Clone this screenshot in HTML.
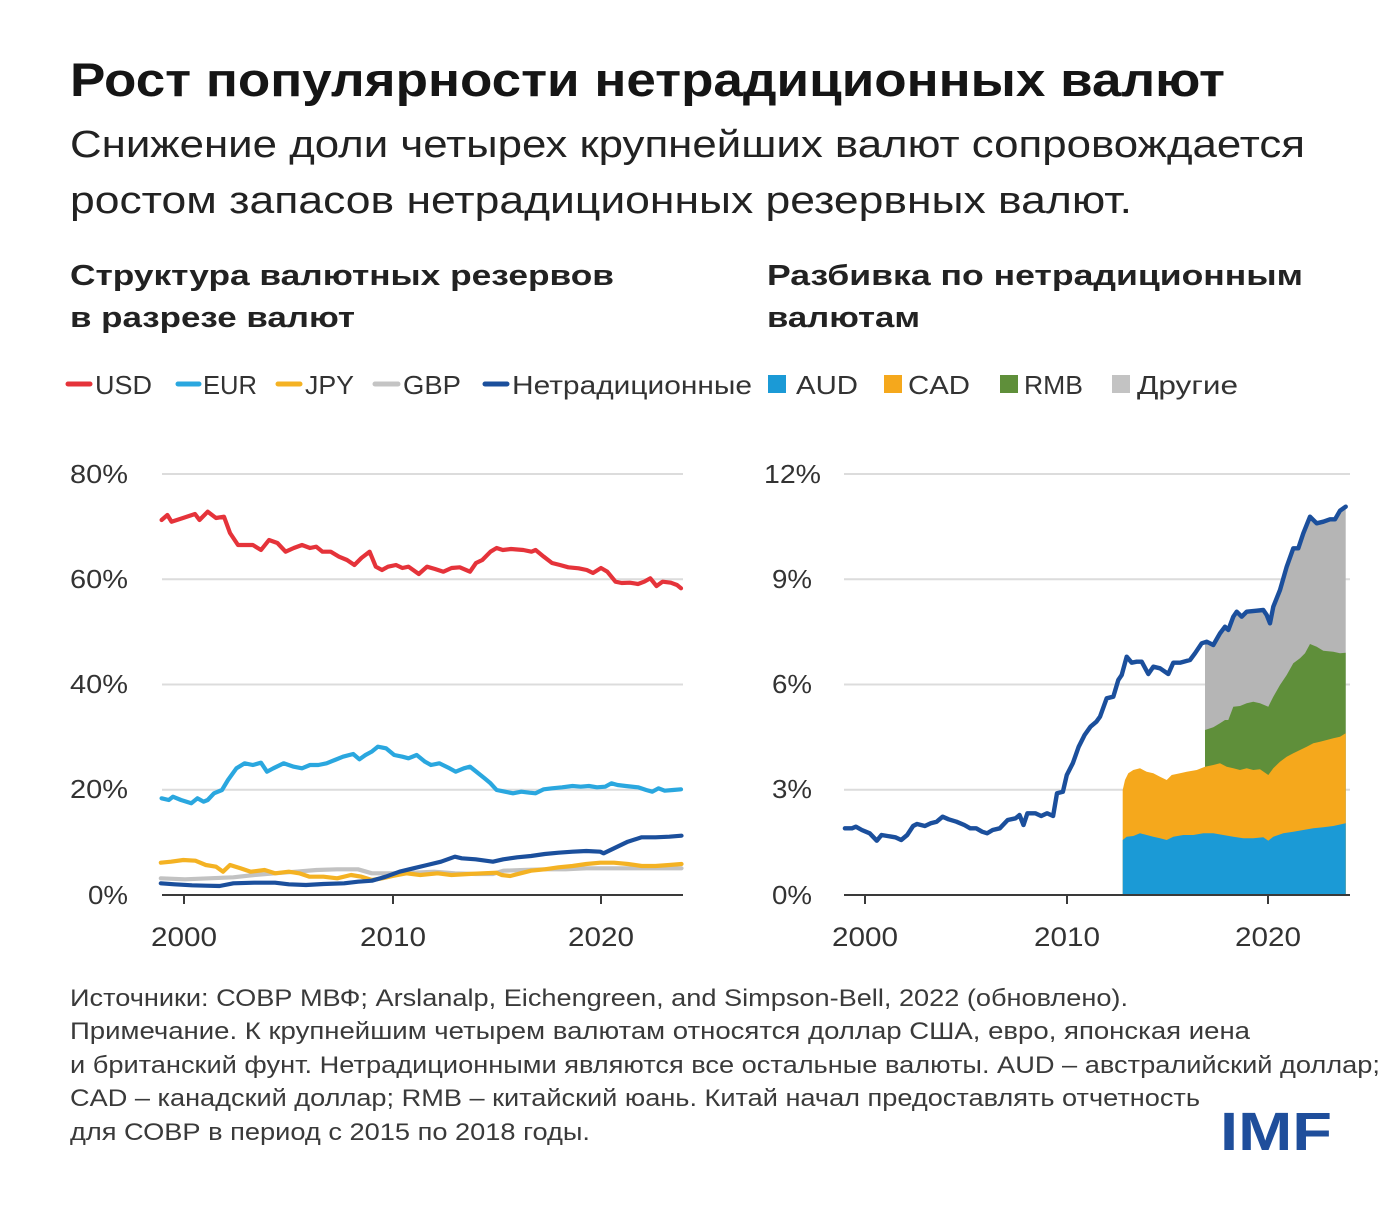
<!DOCTYPE html>
<html><head><meta charset="utf-8"><style>
html,body{margin:0;padding:0;background:#fff;}
svg{display:block;}
text{font-family:"Liberation Sans","DejaVu Sans",sans-serif;}
</style></head><body>
<svg width="1398" height="1210" viewBox="0 0 1398 1210" xmlns="http://www.w3.org/2000/svg">
<rect width="1398" height="1210" fill="#fff"/>
<!-- Title -->
<text x="70" y="96" font-size="47" font-weight="bold" fill="#151515" textLength="1155" lengthAdjust="spacingAndGlyphs">Рост популярности нетрадиционных валют</text>
<text x="70" y="157" font-size="38" fill="#222" textLength="1235" lengthAdjust="spacingAndGlyphs">Снижение доли четырех крупнейших валют сопровождается</text>
<text x="70" y="213" font-size="38" fill="#222" textLength="1062" lengthAdjust="spacingAndGlyphs">ростом запасов нетрадиционных резервных валют.</text>
<!-- Subheadings -->
<text x="70" y="285" font-size="29" font-weight="bold" fill="#222" textLength="544" lengthAdjust="spacingAndGlyphs">Структура валютных резервов</text>
<text x="70" y="327" font-size="29" font-weight="bold" fill="#222" textLength="285" lengthAdjust="spacingAndGlyphs">в разрезе валют</text>
<text x="767" y="285" font-size="29" font-weight="bold" fill="#222" textLength="536" lengthAdjust="spacingAndGlyphs">Разбивка по нетрадиционным</text>
<text x="767" y="327" font-size="29" font-weight="bold" fill="#222" textLength="153" lengthAdjust="spacingAndGlyphs">валютам</text>
<!-- Left legend -->
<g stroke-width="5" stroke-linecap="round">
<line x1="68" y1="384" x2="90" y2="384" stroke="#e5333a"/>
<line x1="178" y1="384" x2="199" y2="384" stroke="#2aa7df"/>
<line x1="278" y1="384" x2="300" y2="384" stroke="#f4b223"/>
<line x1="375" y1="384" x2="398" y2="384" stroke="#c4c4c4"/>
<line x1="485" y1="384" x2="507" y2="384" stroke="#1b4f9c"/>
</g>
<g font-size="26" fill="#333">
<text x="95" y="394" textLength="57" lengthAdjust="spacingAndGlyphs">USD</text>
<text x="203" y="394" textLength="54" lengthAdjust="spacingAndGlyphs">EUR</text>
<text x="305" y="394" textLength="49" lengthAdjust="spacingAndGlyphs">JPY</text>
<text x="403" y="394" textLength="58" lengthAdjust="spacingAndGlyphs">GBP</text>
<text x="512" y="394" textLength="240" lengthAdjust="spacingAndGlyphs">Нетрадиционные</text>
</g>
<!-- Right legend -->
<rect x="768" y="375" width="18" height="18" fill="#1b9ad6"/>
<rect x="884" y="375" width="18" height="18" fill="#f5a81c"/>
<rect x="1000" y="375" width="18" height="18" fill="#5f8f3a"/>
<rect x="1112" y="375" width="18" height="18" fill="#c3c3c3"/>
<g font-size="26" fill="#333">
<text x="796" y="394" textLength="62" lengthAdjust="spacingAndGlyphs">AUD</text>
<text x="908" y="394" textLength="62" lengthAdjust="spacingAndGlyphs">CAD</text>
<text x="1024" y="394" textLength="59" lengthAdjust="spacingAndGlyphs">RMB</text>
<text x="1137" y="394" textLength="101" lengthAdjust="spacingAndGlyphs">Другие</text>
</g>

<!-- LEFT CHART -->
<g stroke="#dcdcdc" stroke-width="2">
<line x1="162" y1="474" x2="683" y2="474"/>
<line x1="162" y1="579.3" x2="683" y2="579.3"/>
<line x1="162" y1="684.5" x2="683" y2="684.5"/>
<line x1="162" y1="789.8" x2="683" y2="789.8"/>
</g>
<g font-size="26" fill="#333" text-anchor="end">
<text x="128" y="483" textLength="58" lengthAdjust="spacingAndGlyphs">80%</text>
<text x="128" y="588" textLength="58" lengthAdjust="spacingAndGlyphs">60%</text>
<text x="128" y="693" textLength="58" lengthAdjust="spacingAndGlyphs">40%</text>
<text x="128" y="798" textLength="58" lengthAdjust="spacingAndGlyphs">20%</text>
<text x="128" y="904" textLength="40" lengthAdjust="spacingAndGlyphs">0%</text>
</g>
<g fill="none" stroke-width="4.2" stroke-linejoin="round" stroke-linecap="round">
<polyline stroke="#c2c2c2" points="160.8,878.3 185,879.3 209.2,878.3 233.4,877.3 254.2,875 275,873.3 295.7,871.7 316.5,870 337.2,869.3 358,869.3 371.9,873.3 392.6,873.3 413.4,872.7 434.1,871.7 454.9,873.3 475.6,874 492.9,874 503.3,870.7 524,870 544.8,869.3 565.6,869.3 586.3,868.3 607.1,868.3 627.8,868.3 648.6,868.3 681.5,868.3"/>
<polyline stroke="#f4b223" points="160.8,862.7 171,861.7 183.3,860 195.4,860.7 205.8,865 216,866.7 223,871.7 230,865 240.4,868.3 250.8,871.7 264.6,870 275,873.3 288.8,871.7 299.2,873.3 309.6,876.7 323.4,876.7 337.2,878.3 351,875 361.5,876.7 371.9,880 382.2,878.3 392.6,876 406.4,873.3 420.3,875 437.6,873.3 451.4,875 468.7,874 482.5,873.3 496.4,872.7 501.6,875 510.2,876 520.6,873.3 531,870.7 544.8,869.3 558.6,867.3 572.5,866 586.3,864 600.2,862.7 614,862.7 627.8,864 641.7,866 655.5,866 669.3,865 681.5,864"/>
<polyline stroke="#1b4f9c" points="160.8,883.3 174.6,884.3 192,885.3 205.8,885.7 219.6,886 233.4,883.3 254.2,882.7 275,882.7 288.8,884.3 306,885 323.4,884 344.2,883.3 358,881.7 371.9,880.7 385.7,876.7 399.5,871.7 413.4,868.3 427.2,865 441,861.7 454.9,856.7 461.8,858.3 475.6,859.3 492.9,861.7 503.3,859.3 517.2,857.3 531,856 544.8,854 558.6,852.7 572.5,851.7 586.3,851 600.2,851.7 603.6,853.3 614,848.3 627.8,841.7 641.7,837.3 655.5,837.3 669.3,836.7 681.5,835.7"/>
<polyline stroke="#2aa7df" points="161.6,798.3 168.8,800 172.9,796.7 181,800 191.3,803.3 197.5,798.3 203.6,801.7 207.7,800 214,793.3 222,790 228,780 236.4,768.3 244.6,763.3 252.8,765 261,762.7 267,771.7 273.3,768.3 283.6,763.3 293.8,766.7 302,768.3 310,765 318.4,765 326.6,763.3 334.8,760 343,756.7 353.2,754 359.4,759.3 365.5,755 371.6,751.7 377.8,746.7 386,748.3 394.2,755 402.4,756.7 408.5,758.3 416.7,755 425,761.7 431,765 439.3,763.3 449.5,768.3 455.7,771.7 463.9,768.3 470,766.7 476.3,771.7 484.5,778.3 490.5,783.3 496.6,790 505,791.7 513,793.3 521.3,791.7 529.5,792.7 535.6,793.3 543.8,789.3 552,788.3 562.2,787.3 572.5,786 580.7,786.7 588.9,786 597,787.3 605.2,786.7 611.4,783.3 617.5,785 625.7,786 638,787.3 646.2,790 652.3,791.7 658.5,788.3 664.7,790.7 672.9,790 681,789.3"/>
<polyline stroke="#e5333a" points="161.6,520 167.4,515 171.5,521.7 183,518 195,514 199.5,520 207.7,511.7 216,518 224,516.7 230,533 238,545 252.8,545 261,550 269,540 277.4,543 285.6,551.7 293.8,548 302,545 310,548 316.3,546.7 322.5,551.7 330.7,551.7 339,556.7 347,560 354.4,565 361.4,558 369.6,551.7 375.8,566.7 382,570 388,566.7 396,565 402.4,568 408.5,566.7 418.8,574 427,566.7 435,569 443.4,571.7 451.6,568 459.8,567.3 470,571.7 476,563 482.3,560 490.5,551.7 496.6,548 502.8,550 511,549 523.3,550 531.5,551.7 535.6,550 543.8,556.7 552,563 560,565 568.3,567.3 578.6,568.3 586.8,570 593,573 601,568 607.3,571.7 615.5,581.7 621.6,583 629.8,582.7 638,584 644.2,581.7 650.3,578.3 656.5,586 662.6,581.7 670.8,582.7 677,585 681,588.3"/>
</g>
<g stroke="#3a3a3a" stroke-width="2">
<line x1="162" y1="895" x2="683" y2="895"/>
<line x1="184" y1="895" x2="184" y2="904"/>
<line x1="393" y1="895" x2="393" y2="904"/>
<line x1="601" y1="895" x2="601" y2="904"/>
</g>
<g font-size="27" fill="#333" text-anchor="middle">
<text x="184" y="946" textLength="66" lengthAdjust="spacingAndGlyphs">2000</text>
<text x="393" y="946" textLength="66" lengthAdjust="spacingAndGlyphs">2010</text>
<text x="601" y="946" textLength="66" lengthAdjust="spacingAndGlyphs">2020</text>
</g>

<!-- RIGHT CHART -->
<g stroke="#dcdcdc" stroke-width="2">
<line x1="844" y1="474" x2="1350" y2="474"/>
<line x1="844" y1="579.3" x2="1350" y2="579.3"/>
<line x1="844" y1="684.5" x2="1350" y2="684.5"/>
<line x1="844" y1="789.8" x2="1350" y2="789.8"/>
</g>
<g font-size="26" fill="#333">
<text x="764" y="483" textLength="57" lengthAdjust="spacingAndGlyphs">12%</text>
<text x="772" y="588" textLength="40" lengthAdjust="spacingAndGlyphs">9%</text>
<text x="772" y="693" textLength="40" lengthAdjust="spacingAndGlyphs">6%</text>
<text x="772" y="798" textLength="40" lengthAdjust="spacingAndGlyphs">3%</text>
<text x="772" y="904" textLength="40" lengthAdjust="spacingAndGlyphs">0%</text>
</g>
<polygon fill="#b5b5b5" points="1205,895 1205,642 1206.7,641.7 1213.3,645 1220,633.3 1225,626.7 1228.3,630 1233.3,616.7 1236.7,611.7 1241.7,616.7 1246.7,611.7 1256.7,610.7 1263.3,610 1266.7,615 1270,623.3 1273.3,606.7 1280,590 1286.7,566.7 1293.3,548.3 1298.3,548.3 1303.3,533.3 1310,516.7 1316.7,523.3 1323.3,521.7 1330,519.3 1335,519.3 1340,510.7 1345.7,506.7 1345.7,895"/>
<polygon fill="#5f8f3a" points="1205,895 1205,730 1213.3,727.3 1220,723.3 1225,720 1228.3,720 1233.3,706.7 1240,706 1246.7,703.3 1253.3,701.7 1260,703.3 1268.3,706.7 1273.3,696.7 1280,685 1286.7,675 1293.3,663.3 1300,658.3 1305,653.3 1310,644 1316.7,646.7 1323.3,650.7 1333.3,651.7 1340,653.3 1345.7,652.7 1345.7,895"/>
<polygon fill="#f5a81c" points="1122.7,895 1122.7,790 1125,780 1128.3,773.3 1133.3,770 1140,768.3 1146.7,771.7 1153.3,773.3 1160,776.7 1166.7,780 1171.7,775 1180,773.3 1186.7,771.7 1196.7,770 1205,766.7 1213.3,765 1220,763.3 1226.7,766.7 1233.3,768.3 1240,770 1246.7,768.3 1253.3,770 1260,769.3 1268.3,775 1273.3,768.3 1280,761.7 1286.7,756.7 1293.3,753.3 1300,750 1306.7,746.7 1313.3,743.3 1320,741.7 1326.7,740 1333.3,738.3 1340,736.7 1345.7,733.3 1345.7,895"/>
<polygon fill="#1b9ad6" points="1122.7,895 1122.7,840 1126.7,836.7 1133.3,836 1140,833.3 1146.7,835 1153.3,836.7 1160,838.3 1166.7,840 1173.3,836.7 1183.3,835 1193.3,835 1203.3,833.3 1213.3,833.3 1223.3,835 1233.3,836.7 1243.3,838.3 1253.3,838.3 1263.3,837.3 1268.3,840.7 1273.3,836.7 1283.3,833.3 1293.3,831.7 1303.3,830 1313.3,828.3 1323.3,827.3 1333.3,826 1345.7,823.3 1345.7,895"/>
<g stroke="#3a3a3a" stroke-width="2">
<line x1="844" y1="895" x2="1350" y2="895"/>
<line x1="865" y1="895" x2="865" y2="904"/>
<line x1="1067" y1="895" x2="1067" y2="904"/>
<line x1="1268" y1="895" x2="1268" y2="904"/>
</g>
<polyline fill="none" stroke="#1b4f9c" stroke-width="4.4" stroke-linejoin="round" stroke-linecap="round" points="844.9,828.3 852,828.3 855.9,826.7 861.8,830 869.7,833.3 876.8,840.7 881.5,835 887.4,836 895.3,837.3 901.2,840 907.2,835 913.1,826 917,824 924.9,826 930.8,823.3 936.7,821.7 942.6,816.7 948.6,819.3 956.4,821.7 964.3,825 970.2,828.3 976.2,828.3 982.1,831.7 987.2,833.3 992.7,830 999.8,828.3 1007.7,820 1015.6,818.3 1019.5,815 1023.5,825 1027.4,813.3 1035.3,813.3 1041.2,816 1047.1,813.3 1053.1,816 1057,793.3 1062.9,791.7 1066.8,775 1072.8,763.3 1078.7,746.7 1084.6,735 1090.5,726.7 1096.4,721.7 1100,716.7 1106.7,698.3 1113.3,696.7 1118.3,680 1121.7,675 1126.7,656.7 1131.7,662.7 1136.7,661.7 1141.7,661.7 1148.3,674 1153.3,666.7 1160,668.3 1168.3,674 1173.3,662.7 1180,662.7 1190,660 1195,653.3 1201.7,643.3 1206.7,641.7 1213.3,645 1220,633.3 1225,626.7 1228.3,630 1233.3,616.7 1236.7,611.7 1241.7,616.7 1246.7,611.7 1256.7,610.7 1263.3,610 1266.7,615 1270,623.3 1273.3,606.7 1280,590 1286.7,566.7 1293.3,548.3 1298.3,548.3 1303.3,533.3 1310,516.7 1316.7,523.3 1323.3,521.7 1330,519.3 1335,519.3 1340,510.7 1345.7,506.7"/>
<g font-size="27" fill="#333" text-anchor="middle">
<text x="865" y="946" textLength="66" lengthAdjust="spacingAndGlyphs">2000</text>
<text x="1067" y="946" textLength="66" lengthAdjust="spacingAndGlyphs">2010</text>
<text x="1268" y="946" textLength="66" lengthAdjust="spacingAndGlyphs">2020</text>
</g>

<!-- Footer -->
<g font-size="24" fill="#3a3a3a">
<text x="70" y="1006" textLength="1058" lengthAdjust="spacingAndGlyphs">Источники: СОВР МВФ; Arslanalp, Eichengreen, and Simpson-Bell, 2022 (обновлено).</text>
<text x="70" y="1039" textLength="1180" lengthAdjust="spacingAndGlyphs">Примечание. К крупнейшим четырем валютам относятся доллар США, евро, японская иена</text>
<text x="70" y="1073" textLength="1310" lengthAdjust="spacingAndGlyphs">и британский фунт. Нетрадиционными являются все остальные валюты. AUD – австралийский доллар;</text>
<text x="70" y="1106" textLength="1130" lengthAdjust="spacingAndGlyphs">CAD – канадский доллар; RMB – китайский юань. Китай начал предоставлять отчетность</text>
<text x="70" y="1140" textLength="520" lengthAdjust="spacingAndGlyphs">для СОВР в период с 2015 по 2018 годы.</text>
</g>
<text x="1220" y="1150" font-size="54" font-weight="bold" fill="#1f4e9b" textLength="112" lengthAdjust="spacingAndGlyphs">IMF</text>
</svg>
</body></html>
